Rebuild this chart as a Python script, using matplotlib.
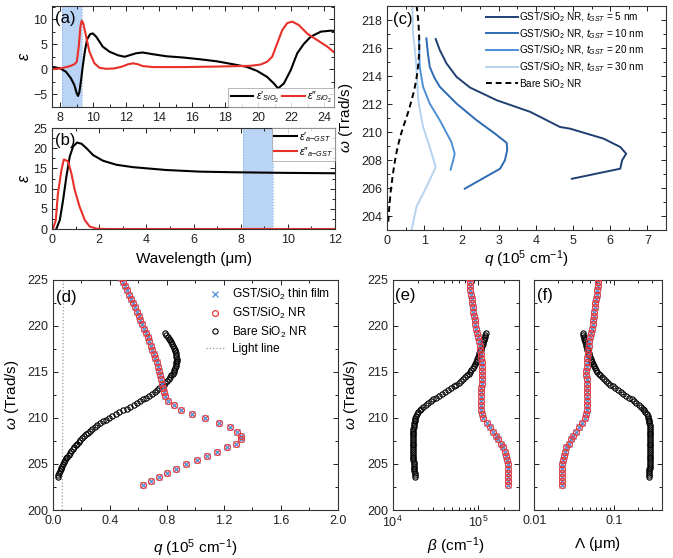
import numpy as np
import matplotlib
matplotlib.use("Agg")
import matplotlib.pyplot as plt
from matplotlib.ticker import MultipleLocator, FixedLocator, FixedFormatter, LogLocator, NullFormatter

plt.rcParams['font.family'] = ['Liberation Sans', 'DejaVu Sans']
plt.rcParams['mathtext.fontset'] = 'custom'
plt.rcParams['mathtext.rm'] = 'Liberation Sans'
plt.rcParams['mathtext.it'] = 'Liberation Sans:italic'
plt.rcParams['mathtext.bf'] = 'Liberation Sans:bold'
plt.rcParams['axes.linewidth'] = 0.8
plt.rcParams['axes.edgecolor'] = '#333333'

# ---------------- (a) SiO2 permittivity ----------------
sio2_wl_re = [7.5, 8.0, 8.35, 8.65, 8.85, 9.0, 9.08, 9.16, 9.26, 9.36, 9.5, 9.63, 9.81, 9.97,
              10.18, 10.58, 10.99, 11.5, 11.9, 12.2, 12.6, 13.0, 13.63, 14.44, 15.46, 16.48,
              17.49, 18.5, 19.3, 19.93, 20.54, 20.95, 21.21, 21.56, 21.97, 22.37, 22.78, 23.19,
              23.8, 24.4, 24.67]
sio2_eps_re = [0.5, 0.2, -0.5, -1.8, -3.1, -4.8, -5.3, -4.5, -2.2, 0.5, 3.8, 6.0, 7.0, 7.15,
               6.5, 4.5, 3.5, 2.8, 2.5, 2.8, 3.2, 3.35, 3.0, 2.6, 2.35, 2.0,
               1.6, 1.0, 0.5, -0.3, -1.5, -2.8, -3.8, -2.8, -0.2, 3.2, 5.1, 6.5,
               7.5, 7.7, 7.6]
sio2_wl_im = [7.5, 8.04, 8.55, 8.85, 9.0, 9.12, 9.22, 9.3, 9.4, 9.57, 9.77, 10.07, 10.38, 10.79,
              11.3, 11.7, 12.1, 12.41, 12.72, 13.0, 13.63, 15.46, 17.49, 19.53, 20.14, 20.54,
              20.85, 21.15, 21.46, 21.76, 22.07, 22.47, 22.98, 23.59, 24.2, 24.67]
sio2_eps_im = [0.0, 0.2, 0.6, 1.0, 1.5, 4.5, 8.5, 9.7, 9.1, 6.5, 3.5, 1.2, 0.3, 0.1,
               0.2, 0.5, 1.0, 1.2, 1.0, 0.65, 0.45, 0.45, 0.55, 0.7, 0.95, 1.5,
               2.5, 5.1, 7.8, 9.2, 9.5, 8.8, 7.1, 5.8, 4.5, 3.2]
band_a = [8.1, 9.3]

# ---------------- (b) a-GST permittivity ----------------
gst_wl_re = [0.18, 0.33, 0.47, 0.61, 0.75, 0.89, 1.06, 1.25, 1.46, 1.74, 2.16, 2.73, 3.44,
             4.85, 6.27, 7.68, 9.8, 12.0]
gst_eps_re = [0, 2.2, 7.2, 13, 17.9, 20.4, 21.4, 21.1, 20, 18.3, 16.9, 15.9, 15.3,
              14.6, 14.2, 14.05, 13.9, 13.8]
gst_wl_im = [0.04, 0.16, 0.25, 0.4, 0.5, 0.56, 0.68, 0.82, 0.96, 1.17, 1.39, 1.6, 1.88, 2.3, 12.0]
gst_eps_im = [0, 2.2, 8.8, 14.6, 17.2, 17.1, 16.7, 13.8, 9.7, 5.5, 2.2, 0.6, 0.1, 0, 0]
band_b = [8.1, 9.35]

# ---------------- (c) dispersion vs GST thickness ----------------
c5_q = [1.31, 1.42, 1.60, 1.87, 2.23, 2.95, 3.85, 4.65, 4.92, 5.82, 6.27, 6.43, 6.32, 6.27, 4.97]
c5_w = [216.64, 215.85, 214.9, 213.94, 213.18, 212.27, 211.44, 210.36, 210.24, 209.53, 208.93,
        208.45, 207.98, 207.38, 206.66]
c10_q = [1.06, 1.10, 1.15, 1.27, 1.42, 1.87, 2.41, 2.90, 3.22, 3.23, 3.17, 3.04, 2.09]
c10_w = [216.69, 215.6, 214.66, 213.9, 213.23, 212.03, 210.84, 209.89, 209.22, 208.69, 207.98,
         207.38, 205.95]
c20_q = [0.86, 0.87, 0.88, 0.97, 1.15, 1.42, 1.73, 1.82, 1.78, 1.71]
c20_w = [216.8, 215.6, 214.66, 213.23, 212.03, 210.84, 209.29, 208.45, 207.98, 207.31]
c30_q = [0.68, 0.70, 0.75, 0.79, 0.84, 0.97, 1.15, 1.31, 1.06, 0.79, 0.66]
c30_w = [219.4, 217.05, 215.9, 214.66, 212.27, 210.36, 208.93, 207.5, 206.07, 204.64, 202.97]
c_labels = [r"GST/SiO$_2$ NR, $t_{GST}$ = 5 nm", r"GST/SiO$_2$ NR, $t_{GST}$ = 10 nm",
            r"GST/SiO$_2$ NR, $t_{GST}$ = 20 nm", r"GST/SiO$_2$ NR, $t_{GST}$ = 30 nm"]
c_colors = ['#1f3f73', '#2e6ab4', '#4d8fd6', '#b5d3ef']

# ---------------- (d)-(f) bare SiO2 NR ----------------
bare_w = [203.6, 203.8, 204.0, 204.2, 204.4, 204.6, 204.8, 205.0, 205.2, 205.4,
          205.6, 205.8, 206.0, 206.2, 206.4, 206.6, 206.8, 207.0, 207.2, 207.4,
          207.6, 207.8, 208.0, 208.2, 208.4, 208.6, 208.8, 209.0, 209.2, 209.4,
          209.6, 209.8, 210.0, 210.2, 210.4, 210.6, 210.8, 211.0, 211.2, 211.4,
          211.6, 211.8, 212.0, 212.2, 212.4, 212.6, 212.8, 213.0, 213.2, 213.4,
          213.6, 213.8, 214.0, 214.2, 214.4, 214.6, 214.8, 215.0, 215.2, 215.4,
          215.6, 215.8, 216.0, 216.2, 216.4, 216.6, 216.8, 217.0, 217.2, 217.4,
          217.6, 217.8, 218.0, 218.2, 218.4, 218.6, 218.8, 219.0, 219.2]
bare_q = [0.036, 0.040, 0.045, 0.050, 0.055, 0.061, 0.067, 0.074, 0.080, 0.087,
          0.094, 0.102, 0.111, 0.120, 0.130, 0.140, 0.150, 0.160, 0.171, 0.182,
          0.194, 0.206, 0.219, 0.232, 0.246, 0.261, 0.277, 0.294, 0.312, 0.331,
          0.351, 0.372, 0.394, 0.417, 0.441, 0.466, 0.492, 0.518, 0.543, 0.567,
          0.590, 0.612, 0.633, 0.653, 0.672, 0.695, 0.714, 0.731, 0.748, 0.763,
          0.777, 0.790, 0.802, 0.813, 0.823, 0.832, 0.840, 0.847, 0.853, 0.858,
          0.862, 0.865, 0.867, 0.868, 0.868, 0.867, 0.865, 0.862, 0.858, 0.854,
          0.850, 0.845, 0.838, 0.831, 0.823, 0.815, 0.806, 0.797, 0.787]
bare_beta = [1.82, 1.81, 1.80, 1.79, 1.78, 1.77, 1.77, 1.76, 1.76, 1.75,
             1.75, 1.75, 1.75, 1.75, 1.75, 1.75, 1.75, 1.75, 1.75, 1.75,
             1.75, 1.75, 1.75, 1.75, 1.75, 1.75, 1.75, 1.76, 1.77, 1.78,
             1.80, 1.82, 1.84, 1.88, 1.93, 2.00, 2.07, 2.16, 2.29, 2.43,
             2.60, 2.79, 2.99, 3.24, 3.51, 3.80, 4.12, 4.47, 4.84, 5.19,
             5.56, 5.96, 6.31, 6.68, 7.08, 7.41, 7.76, 8.04, 8.32, 8.61,
             8.87, 9.12, 9.33, 9.55, 9.77, 9.95, 10.14, 10.33, 10.52, 10.72,
             10.91, 11.12, 11.30, 11.48, 11.64, 11.80, 11.97, 12.13, 12.30]  # x1e4 cm^-1

# ---------------- (d)-(f) GST/SiO2 NR and thin film ----------------
gst_w = [202.72, 203.15, 203.62, 204.06, 204.49, 204.96, 205.40, 205.83, 206.30, 206.78,
         207.21, 207.68, 208.04, 208.51, 209.02, 209.46, 209.96, 210.40, 210.87, 211.38,
         211.85, 212.32, 212.78, 213.24, 213.70, 214.16, 214.62, 215.08, 215.54, 216.00,
         216.46, 216.92, 217.38, 217.84, 218.30, 218.76, 219.22, 219.68, 220.14, 220.60,
         221.06, 221.52, 221.98, 222.44, 222.90, 223.36, 223.82, 224.28, 224.74, 225.20]
gst_q = [0.635, 0.689, 0.745, 0.803, 0.864, 0.932, 1.009, 1.083, 1.149, 1.219,
         1.284, 1.317, 1.319, 1.289, 1.242, 1.165, 1.067, 0.974, 0.899, 0.850,
         0.810, 0.787, 0.778, 0.771, 0.765, 0.759, 0.752, 0.745, 0.737, 0.728,
         0.719, 0.709, 0.699, 0.688, 0.677, 0.665, 0.653, 0.641, 0.628, 0.615,
         0.602, 0.589, 0.575, 0.561, 0.547, 0.533, 0.519, 0.505, 0.491, 0.477]
gst_beta = [2.23, 2.23, 2.23, 2.23, 2.22, 2.21, 2.19, 2.14, 2.07, 1.97,
            1.85, 1.72, 1.62, 1.50, 1.38, 1.26, 1.15, 1.11, 1.09, 1.08,
            1.08, 1.08, 1.085, 1.09, 1.095, 1.10, 1.105, 1.105, 1.10, 1.095,
            1.085, 1.07, 1.055, 1.04, 1.015, 0.99, 0.965, 0.945, 0.925, 0.91,
            0.895, 0.88, 0.865, 0.85, 0.835, 0.82, 0.81, 0.80, 0.795, 0.79]  # x1e5 cm^-1
light_w = [200.0, 225.0]
light_q = [0.0667, 0.0750]

# derived quantities
bare_beta_cm = np.array(bare_beta) * 1e4
gst_beta_cm = np.array(gst_beta) * 1e5
bare_L = 1e4 / (2 * bare_beta_cm)   # propagation length in um
gst_L = 1e4 / (2 * gst_beta_cm)

BLUE_X = '#4f8fd8'
RED_O = '#e8383b'
BAND = '#b9d4f5'
TICK_FS = 9
LAB_FS = 11


def style(ax):
    ax.tick_params(which='both', direction='in', top=True, right=True,
                   labelsize=TICK_FS, colors='#222222', width=0.7)
    ax.tick_params(which='major', length=3.5)
    ax.tick_params(which='minor', length=2)


fig = plt.figure(figsize=(6.73, 5.58), dpi=100)

# ---- (a)
ax = fig.add_axes([0.0773, 0.8082, 0.4190, 0.1810])
ax.axvspan(band_a[0], band_a[1], color=BAND, zorder=0, lw=0)
for b in band_a:
    ax.axvline(b, color='#8fb4e3', ls=':', lw=0.8, zorder=0)
ax.plot(sio2_wl_re, sio2_eps_re, color='black', lw=1.5, label="$\\varepsilon$\u2032$_{SiO_2}$")
ax.plot(sio2_wl_im, sio2_eps_im, color='#e8302a', lw=1.5, label="$\\varepsilon$\u2033$_{SiO_2}$")
ax.set_xlim(7.5, 24.6)
ax.set_ylim(-7.5, 12.6)
ax.xaxis.set_major_locator(MultipleLocator(2))
ax.xaxis.set_minor_locator(MultipleLocator(1))
ax.yaxis.set_major_locator(MultipleLocator(5))
ax.yaxis.set_minor_locator(MultipleLocator(2.5))
style(ax)
ax.set_ylabel(r"$\varepsilon$", fontsize=LAB_FS + 0.5)
ax.yaxis.set_label_coords(-0.071, 0.5)
ax.text(0.01, 0.95, "(a)", transform=ax.transAxes, fontsize=12, va='top', ha='left')
leg = ax.legend(loc='lower right', ncol=2, fontsize=7.5, frameon=True, fancybox=False,
                borderaxespad=0, handlelength=2.2, columnspacing=0.3, handletextpad=0.2,
                borderpad=0.2)
leg.get_frame().set_edgecolor('#999999')
leg.get_frame().set_linewidth(0.6)

# ---- (b)
ax = fig.add_axes([0.0773, 0.5896, 0.4205, 0.1810])
ax.axvspan(band_b[0], band_b[1], color=BAND, zorder=0, lw=0)
for b in band_b:
    ax.axvline(b, color='#8fb4e3', ls=':', lw=0.8, zorder=0)
ax.plot(gst_wl_re, gst_eps_re, color='black', lw=1.5,
        label="$\\varepsilon$\u2032$_{a\\mathrm{-}GST}$")
ax.plot(gst_wl_im, gst_eps_im, color='#e8302a', lw=1.5,
        label="$\\varepsilon$\u2033$_{a\\mathrm{-}GST}$")
ax.set_xlim(0, 12)
ax.set_ylim(0, 25)
ax.xaxis.set_major_locator(MultipleLocator(2))
ax.xaxis.set_minor_locator(MultipleLocator(1))
ax.yaxis.set_major_locator(MultipleLocator(5))
ax.yaxis.set_minor_locator(MultipleLocator(2.5))
style(ax)
ax.set_ylabel(r"$\varepsilon$", fontsize=LAB_FS + 0.5)
ax.yaxis.set_label_coords(-0.071, 0.5)
ax.set_xlabel("Wavelength (μm)", fontsize=LAB_FS)
ax.xaxis.set_label_coords(0.5, -0.225)
ax.text(0.01, 0.95, "(b)", transform=ax.transAxes, fontsize=12, va='top', ha='left')
leg = ax.legend(loc='upper right', fontsize=7.5, frameon=True, fancybox=False,
                borderaxespad=0, handlelength=2.2, handletextpad=0.2, borderpad=0.2,
                labelspacing=0.1)
leg.get_frame().set_edgecolor('#999999')
leg.get_frame().set_linewidth(0.6)

# ---- (c)
ax = fig.add_axes([0.5750, 0.5878, 0.4146, 0.4014])
for qq, ww, lab, col in zip([c5_q, c10_q, c20_q, c30_q], [c5_w, c10_w, c20_w, c30_w],
                            c_labels, c_colors):
    ax.plot(qq, ww, color=col, lw=1.4, label=lab)
ax.plot(bare_q, bare_w, color='black', lw=1.4, ls=(0, (3, 2)), label=r"Bare SiO$_2$ NR")
ax.set_xlim(0, 7.5)
ax.set_ylim(203, 219)
ax.xaxis.set_major_locator(MultipleLocator(1))
ax.xaxis.set_minor_locator(MultipleLocator(0.5))
ax.yaxis.set_major_locator(MultipleLocator(2))
ax.yaxis.set_minor_locator(MultipleLocator(1))
style(ax)
ax.set_ylabel(r"$\omega$ (Trad/s)", fontsize=LAB_FS)
ax.yaxis.set_label_coords(-0.115, 0.5)
ax.set_xlabel(r"$q$ (10$^5$ cm$^{-1}$)", fontsize=LAB_FS)
ax.xaxis.set_label_coords(0.5, -0.08)
ax.text(0.02, 0.975, "(c)", transform=ax.transAxes, fontsize=12, va='top', ha='left')
ax.legend(loc='upper right', bbox_to_anchor=(0.94, 1.005), fontsize=7.2, frameon=False,
          borderaxespad=0.15, handlelength=3.2, handletextpad=0.1, labelspacing=0.3)

# ---- (d)
ax = fig.add_axes([0.0783, 0.0860, 0.4239, 0.4131])
ax.plot(light_q, light_w, color='#999999', ls=':', lw=0.9, zorder=1)
ax.plot(gst_q, gst_w, ls='none', marker='x', ms=4.5, mew=0.9, color=BLUE_X,
        label=r"GST/SiO$_2$ thin film", zorder=3)
ax.plot(gst_q, gst_w, ls='none', marker='o', ms=4.2, mew=0.9, mfc='none', mec=RED_O,
        label=r"GST/SiO$_2$ NR", zorder=4)
ax.plot(bare_q, bare_w, ls='none', marker='o', ms=3.8, mew=0.8, mfc='none', mec='black',
        label=r"Bare SiO$_2$ NR", zorder=2)
ax.plot([], [], color='#999999', ls=':', lw=0.9, label="Light line")
ax.set_xlim(0, 2.0)
ax.set_ylim(200, 225)
ax.xaxis.set_major_locator(MultipleLocator(0.4))
ax.xaxis.set_minor_locator(MultipleLocator(0.2))
ax.yaxis.set_major_locator(MultipleLocator(5))
ax.yaxis.set_minor_locator(MultipleLocator(2.5))
ax.xaxis.set_major_formatter(matplotlib.ticker.FormatStrFormatter('%.1f'))
style(ax)
ax.set_ylabel(r"$\omega$ (Trad/s)", fontsize=LAB_FS)
ax.yaxis.set_label_coords(-0.112, 0.5)
ax.set_xlabel(r"$q$ (10$^5$ cm$^{-1}$)", fontsize=LAB_FS)
ax.xaxis.set_label_coords(0.5, -0.117)
ax.text(0.01, 0.955, "(d)", transform=ax.transAxes, fontsize=12, va='top', ha='left')
ax.legend(loc='upper right', fontsize=8.6, frameon=False, borderaxespad=0.25,
          handlelength=1.6, handletextpad=0.6, labelspacing=0.3)

# ---- (e)
ax = fig.add_axes([0.5835, 0.0860, 0.1877, 0.4131])
ax.plot(gst_beta_cm, gst_w, ls='none', marker='x', ms=4.5, mew=0.9, color=BLUE_X, zorder=3)
ax.plot(gst_beta_cm, gst_w, ls='none', marker='o', ms=4.2, mew=0.9, mfc='none', mec=RED_O, zorder=4)
ax.plot(bare_beta_cm, bare_w, ls='none', marker='o', ms=3.8, mew=0.8, mfc='none', mec='black', zorder=2)
ax.set_xscale('log')
ax.set_xlim(1e4, 3e5)
ax.set_ylim(200, 225)
ax.xaxis.set_major_locator(LogLocator(base=10, numticks=5))
ax.xaxis.set_minor_locator(LogLocator(base=10, subs=np.arange(2, 10), numticks=20))
ax.xaxis.set_minor_formatter(NullFormatter())
ax.yaxis.set_major_locator(MultipleLocator(5))
ax.yaxis.set_minor_locator(MultipleLocator(2.5))
style(ax)
ax.set_ylabel(r"$\omega$ (Trad/s)", fontsize=LAB_FS)
ax.yaxis.set_label_coords(-0.26, 0.5)
ax.set_xlabel(r"$\beta$ (cm$^{-1}$)", fontsize=LAB_FS)
ax.xaxis.set_label_coords(0.5, -0.108)
ax.text(0.02, 0.965, "(e)", transform=ax.transAxes, fontsize=12, va='top', ha='left')

# ---- (f)
ax = fig.add_axes([0.7939, 0.0860, 0.1893, 0.4131])
ax.plot(gst_L, gst_w, ls='none', marker='x', ms=4.5, mew=0.9, color=BLUE_X, zorder=3)
ax.plot(gst_L, gst_w, ls='none', marker='o', ms=4.2, mew=0.9, mfc='none', mec=RED_O, zorder=4)
ax.plot(bare_L, bare_w, ls='none', marker='o', ms=3.8, mew=0.8, mfc='none', mec='black', zorder=2)
ax.set_xscale('log')
ax.set_xlim(0.01, 0.4)
ax.set_ylim(200, 225)
ax.xaxis.set_major_locator(FixedLocator([0.01, 0.1]))
ax.xaxis.set_major_formatter(FixedFormatter(["0.01", "0.1"]))
ax.xaxis.set_minor_locator(LogLocator(base=10, subs=np.arange(2, 10), numticks=20))
ax.xaxis.set_minor_formatter(NullFormatter())
ax.yaxis.set_major_locator(MultipleLocator(5))
ax.yaxis.set_minor_locator(MultipleLocator(2.5))
style(ax)
ax.tick_params(labelleft=False)
ax.set_xlabel(r"$\mathit{\Lambda}$ (μm)", fontsize=LAB_FS)
ax.xaxis.set_label_coords(0.5, -0.108)
ax.text(0.02, 0.965, "(f)", transform=ax.transAxes, fontsize=12, va='top', ha='left')

fig.savefig("out.png", dpi=100)
